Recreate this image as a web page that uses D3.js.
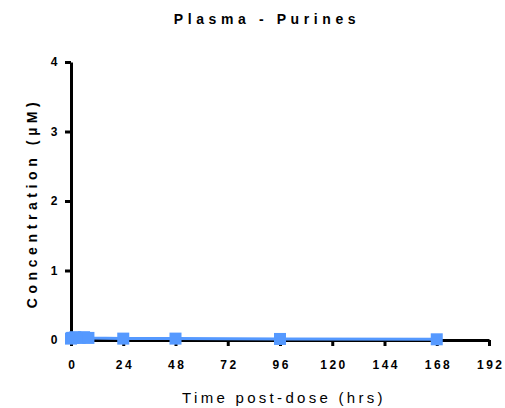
<!DOCTYPE html>
<html>
<head>
<meta charset="utf-8">
<script src="https://cdn.jsdelivr.net/npm/d3@7"></script>
<style>
  body { margin: 0; background: #fff; }
  text { font-family: "Liberation Sans", Arial, sans-serif; }
</style>
</head>
<body>
<div class="chart"></div>
<script>
// data
let times = [0, 0.5, 1, 2, 4, 6, 8, 24, 48, 96, 168];
let conc = [0.02, 0.03, 0.03, 0.04, 0.03, 0.04, 0.03, 0.02, 0.02, 0.015, 0.01];
let xTicks = [0, 24, 48, 72, 96, 120, 144, 168, 192];
let yTicks = [0, 1, 2, 3, 4];

let width = 505, height = 408;
let margin = { left: 71, right: 16, top: 62, bottom: 68 };

let svg = d3.select('.chart').append('svg')
    .attr('width', width)
    .attr('height', height);

let x = d3.scaleLinear().domain([0, 192]).range([margin.left, width - margin.right]);
let y = d3.scaleLinear().domain([0, 4]).range([height - margin.bottom, margin.top]);

/////// AXES ///////////////////////////////////////

let xAxis = svg.append('g')
    .attr('transform', `translate(0,${y(0)})`)
    .call(d3.axisBottom(x).tickValues(xTicks).tickFormat(d3.format('d'))
        .tickSize(6).tickSizeOuter(0).tickPadding(14));

let yAxis = svg.append('g')
    .attr('transform', `translate(${x(0)},0)`)
    .call(d3.axisLeft(y).tickValues(yTicks).tickFormat(d3.format('d'))
        .tickSize(6).tickSizeOuter(0).tickPadding(5));

[xAxis, yAxis].forEach(a => {
  a.select('.domain').attr('stroke', '#000').attr('stroke-width', 3);
  a.selectAll('.tick line').attr('stroke', '#000').attr('stroke-width', 3);
  a.selectAll('.tick text')
      .attr('fill', '#000')
      .style('font-size', '12px')
      .style('font-weight', 'bold')
      .style('letter-spacing', '2.5px');
});
// x labels: letter-spacing pads the right side, recentre them
xAxis.selectAll('.tick text').attr('dx', '1.25px');

/////// SERIES ///////////////////////////////////////

let pts = times.map((t, i) => ({ t: t, v: conc[i] }));

svg.append('path')
    .datum(pts)
    .attr('fill', 'none')
    .attr('stroke', '#5599ff')
    .attr('stroke-width', 3)
    .attr('d', d3.line().x(d => x(d.t)).y(d => y(d.v)));

svg.selectAll('rect.pt')
    .data(pts)
  .enter().append('rect')
    .classed('pt', true)
    .attr('x', d => x(d.t) - 6)
    .attr('y', d => y(d.v) - 6)
    .attr('width', 12)
    .attr('height', 12)
    .attr('fill', '#5599ff');

/////// LABELS ///////////////////////////////////////

svg.append('text')
    .attr('x', 267)
    .attr('y', 24)
    .attr('text-anchor', 'middle')
    .style('font-size', '14px')
    .style('font-weight', 'bold')
    .style('letter-spacing', '4.6px')
    .text('Plasma - Purines');

svg.append('text')
    .attr('x', 284)
    .attr('y', 403)
    .attr('text-anchor', 'middle')
    .style('font-size', '15px')
    .style('letter-spacing', '3.3px')
    .text('Time post-dose (hrs)');

svg.append('text')
    .attr('transform', `translate(37,${y(2) + 2}) rotate(-90)`)
    .attr('text-anchor', 'middle')
    .style('font-size', '14px')
    .style('font-weight', 'bold')
    .style('letter-spacing', '4.6px')
    .text('Concentration (µM)');
</script>
</body>
</html>
